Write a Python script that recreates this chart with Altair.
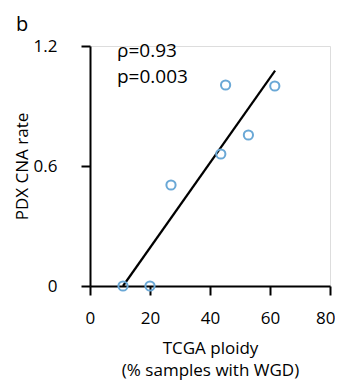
import altair as alt
import pandas as pd

# data
tcga_wgd = [11, 20, 27, 43.6, 45.2, 52.8, 61.6]
pdx_cna = [0, 0, 0.505, 0.66, 1.005, 0.755, 1.0]
fit_x = [11, 61.7]
fit_y = [0, 1.077]
x_ticks = [0, 20, 40, 60, 80]
y_ticks = [0, 0.6, 1.2]
ann_text = ["ρ=0.93", "p=0.003"]
ann_x = [9, 9]
ann_y = [1.175, 1.045]

FONT = "Open Sans"

pts = pd.DataFrame({"x": tcga_wgd, "y": pdx_cna})
fit = pd.DataFrame({"x": fit_x, "y": fit_y})
ann = pd.DataFrame({"x": ann_x, "y": ann_y, "t": ann_text})

xs = alt.Scale(domain=[0, 80], nice=False)
ys = alt.Scale(domain=[0, 1.2], nice=False)

xaxis = alt.Axis(values=x_ticks, title=["TCGA ploidy", "(% samples with WGD)"],
                 grid=False, domainColor="black", tickColor="black", domainWidth=2,
                 tickWidth=2, tickSize=9, labelFontSize=17, labelColor="black",
                 labelPadding=15, titleFontSize=17, titleFontWeight="normal",
                 titleColor="black", titlePadding=14, labelFont=FONT, titleFont=FONT,
                 titleLineHeight=22, labelOverlap=False, labelBound=False,
                 labelFlush=True, labelFlushOffset=5)
yaxis = alt.Axis(values=y_ticks, title="PDX CNA rate", grid=False, domainColor="black",
                 tickColor="black", domainWidth=2, tickWidth=2, tickSize=9,
                 labelFontSize=17, labelColor="black", labelPadding=24,
                 titleFontSize=17, titleFontWeight="normal", titleColor="black",
                 titlePadding=2, labelFont=FONT, titleFont=FONT,
                 labelExpr="datum.value == 0 ? '0' : format(datum.value, '.1f')")

points = alt.Chart(pts).mark_point(shape="circle", filled=False, size=85,
                                   strokeWidth=2, color="#6aa8d6", opacity=1,
                                   clip=False).encode(
    x=alt.X("x:Q", scale=xs, axis=xaxis),
    y=alt.Y("y:Q", scale=ys, axis=yaxis),
)

line = alt.Chart(fit).mark_line(color="black", strokeWidth=2.2).encode(
    x=alt.X("x:Q", scale=xs),
    y=alt.Y("y:Q", scale=ys),
)

texts = alt.Chart(ann).mark_text(align="left", baseline="middle", fontSize=19,
                                 font=FONT, color="black").encode(
    x=alt.X("x:Q", scale=xs),
    y=alt.Y("y:Q", scale=ys),
    text="t:N",
)

panel = alt.Chart(pd.DataFrame({"t": ["b"]})).mark_text(
    align="left", baseline="middle", fontSize=20, font=FONT, color="black"
).encode(x=alt.value(-74), y=alt.value(-21), text="t:N")

chart = alt.layer(line, points, texts, panel).properties(
    width=240, height=240,
    autosize=alt.AutoSizeParams(type="none"),
    padding={"left": 82, "top": 38, "right": 5, "bottom": 96},
).configure_view(stroke=None).configure(background="white")

chart.save("out.html", embed_options={"renderer": "svg", "actions": False})
